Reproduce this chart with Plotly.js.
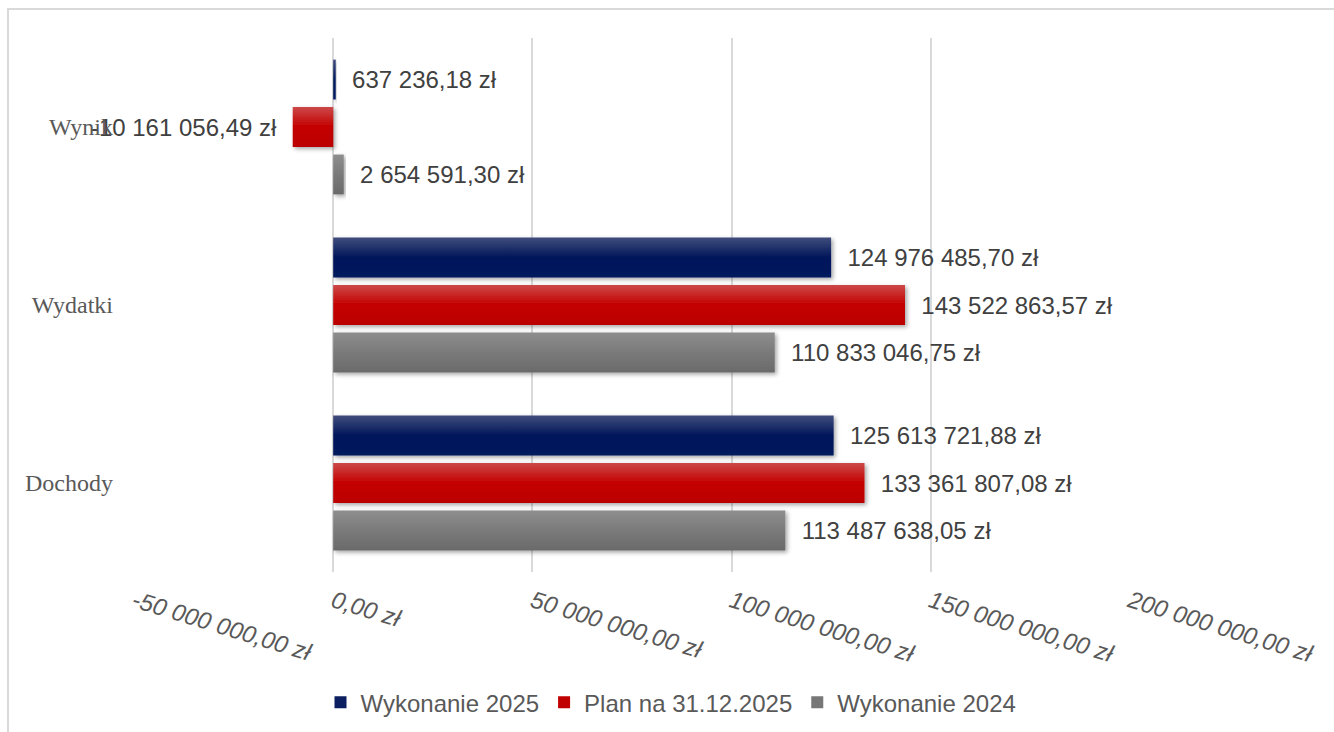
<!DOCTYPE html>
<html>
<head>
<meta charset="utf-8">
<script src="https://cdn.plot.ly/plotly-3.0.1.min.js"></script>
<style>
  html, body { margin: 0; padding: 0; background: #fff; overflow: hidden; }
  #frame { position: absolute; left: 7px; top: 8px; width: 1400px; height: 800px; border: 2px solid #d9d9d9; pointer-events: none; }
  #chart { position: absolute; left: 0; top: 0; width: 1334px; height: 732px; }
</style>
</head>
<body>
<div id="chart"></div>
<div id="frame"></div>
<script>
const categories = ['Dochody', 'Wydatki', 'Wynik'];
const wykonanie2025 = [125613721.88, 124976485.70, 637236.18];
const plan2025 = [133361807.08, 143522863.57, -10161056.49];
const wykonanie2024 = [113487638.05, 110833046.75, 2654591.30];
const seriesNames = ['Wykonanie 2025', 'Plan na 31.12.2025', 'Wykonanie 2024'];
const seriesColors = ['#0b1f60', '#c00000', '#777777'];
const tickValues = [-50000000, 0, 50000000, 100000000, 150000000, 200000000];
const tickLabels = ['-50 000 000,00 zł', '0,00 zł', '50 000 000,00 zł', '100 000 000,00 zł', '150 000 000,00 zł', '200 000 000,00 zł'];

function fmt(v) {
  const neg = v < 0;
  const parts = Math.abs(v).toFixed(2).split('.');
  const intPart = parts[0].replace(/\B(?=(\d{3})+(?!\d))/g, ' ');
  return (neg ? '-' : '') + intPart + ',' + parts[1] + ' zł';
}
function labels(arr) {
  return arr.map(v => v < 0 ? fmt(v) + '\u00a0\u00a0' : '\u00a0\u00a0' + fmt(v));
}

const labelFont = { family: 'Liberation Sans, Arial, sans-serif', size: 24, color: '#404040' };
function mk(vals, i) {
  return {
    type: 'bar', orientation: 'h', y: categories, x: vals, name: seriesNames[i],
    marker: { color: seriesColors[i] },
    text: labels(vals), textposition: 'outside', textfont: labelFont,
    cliponaxis: false, hoverinfo: 'none'
  };
}
const data = [mk(wykonanie2024, 2), mk(plan2025, 1), mk(wykonanie2025, 0)];

const layout = {
  width: 1334, height: 732,
  margin: { l: 134, r: 204, t: 38, b: 160 },
  paper_bgcolor: '#fff', plot_bgcolor: '#fff',
  barmode: 'group', bargap: 0.2, bargroupgap: 0.16,
  showlegend: true,
  legend: {
    orientation: 'h', traceorder: 'reversed', xref: 'container', yref: 'container',
    x: 0.503, xanchor: 'center', y: 0.04, yanchor: 'middle',
    font: { family: 'Liberation Sans, Arial, sans-serif', size: 24, color: '#595959' },
    itemwidth: 30
  },
  xaxis: {
    range: [-50000000, 200000000], tickvals: tickValues, ticktext: tickLabels,
    tickangle: 17, showgrid: true, gridcolor: '#d9d9d9', gridwidth: 2,
    zeroline: true, zerolinecolor: '#d9d9d9', zerolinewidth: 2,
    showline: false, ticks: '', ticklabelstandoff: 10,
    tickfont: { family: 'Liberation Sans, Arial, sans-serif', size: 24, color: '#595959', style: 'italic' },
    fixedrange: true
  },
  yaxis: {
    type: 'category', categoryorder: 'array', categoryarray: categories,
    showgrid: false, zeroline: false, showline: false, ticks: '', ticklabelstandoff: 20,
    tickfont: { family: 'Liberation Serif, Times New Roman, serif', size: 24, color: '#595959' },
    fixedrange: true
  }
};

const gradStops = {
  '#0b1f60': ['#404c7c', '#00175a', '#001a5e'],
  '#c00000': ['#cc4848', '#c40000', '#bb0000'],
  '#777777': ['#8e8e8e', '#7a7a7a', '#6a6a6a']
};

Plotly.newPlot('chart', data, layout, { displayModeBar: false, staticPlot: true }).then(gd => {
  const svg = gd.querySelector('svg.main-svg');
  const ns = 'http://www.w3.org/2000/svg';
  let defs = svg.querySelector('defs');
  if (!defs) { defs = document.createElementNS(ns, 'defs'); svg.insertBefore(defs, svg.firstChild); }
  const filt = document.createElementNS(ns, 'filter');
  filt.setAttribute('id', 'barShadow');
  filt.setAttribute('x', '-10%'); filt.setAttribute('y', '-20%');
  filt.setAttribute('width', '130%'); filt.setAttribute('height', '160%');
  filt.innerHTML = '<feDropShadow dx="2" dy="2" stdDeviation="2" flood-color="#000" flood-opacity="0.35"/>';
  defs.appendChild(filt);
  const traces = gd.querySelectorAll('.barlayer .trace.bars');
  traces.forEach((tr, idx) => {
    const col = data[idx].marker.color;
    const st = gradStops[col];
    const gid = 'barGrad' + idx;
    const g = document.createElementNS(ns, 'linearGradient');
    g.setAttribute('id', gid);
    g.setAttribute('x1', '0'); g.setAttribute('y1', '0'); g.setAttribute('x2', '0'); g.setAttribute('y2', '1');
    g.innerHTML = '<stop offset="0" stop-color="' + st[0] + '"/><stop offset="0.5" stop-color="' + st[1] + '"/><stop offset="1" stop-color="' + st[2] + '"/>';
    defs.appendChild(g);
    tr.querySelectorAll('.point path').forEach(p => {
      p.style.fill = 'url(#' + gid + ')';
      p.setAttribute('filter', 'url(#barShadow)');
    });
  });
});
</script>
</body>
</html>
